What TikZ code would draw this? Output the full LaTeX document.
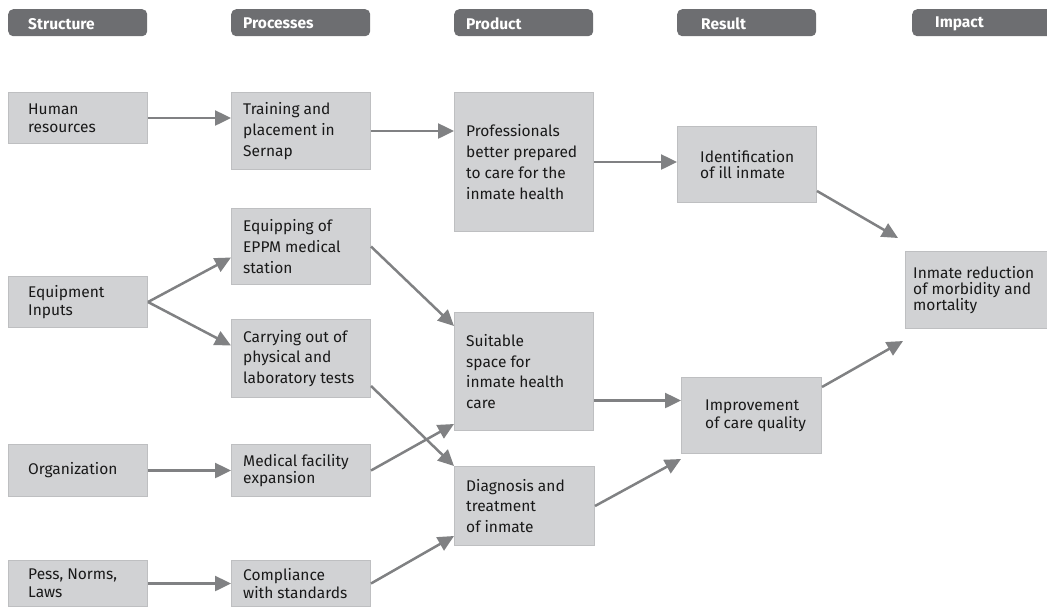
\documentclass[tikz,border=0pt]{standalone}
\usepackage{fontspec}
\setmainfont{Fira Sans}
\usetikzlibrary{arrows.meta}
\definecolor{boxfill}{RGB}{209,210,212}
\definecolor{boxline}{RGB}{190,191,193}
\definecolor{headfill}{RGB}{109,110,113}
\definecolor{arrgray}{RGB}{128,129,131}
\tikzset{
  box/.style={draw=boxline, fill=boxfill, line width=1pt, anchor=north west, inner sep=0pt},
  txt/.style={inner sep=0pt, align=left, anchor=west, text=black!90,
    font=\fontsize{15.5}{20.7}\selectfont},
  tight/.style={font=\fontsize{15.5}{17.8}\selectfont},
  head/.style={fill=headfill, rounded corners=5pt, anchor=north west, inner sep=0pt},
  headtxt/.style={inner sep=0pt, anchor=west, text=white, font=\fontsize{15.5}{17}\selectfont\bfseries},
  arr/.style={draw=arrgray, line width=2.5pt, -{Triangle[length=16pt,width=15pt]}},
}
% #1 text options, #2 name, #3 x, #4 y, #5 w, #6 h, #7 inset, #8 text
\newcommand\flowbox[8][]{%
  \node[box, minimum width=#5pt, minimum height=#6pt] (#2) at (#3,#4) {};
  \node[txt,#1] (#2t) at ([xshift=#7pt]#2.west) {#8};
}
\newcommand\headbox[6]{%
  \node[head, minimum width=#4pt, minimum height=27pt] (#1) at (#2,#3) {};
  \node[headtxt] (#1t) at ([xshift=#5pt,yshift=-1pt]#1.west) {#6};
}
\begin{document}
\begin{tikzpicture}[x=1pt,y=-1pt]
\useasboundingbox (0,0) rectangle (1047,606);
% headers
\headbox{hS}{8}{9}{139}{20}{Structure}
\headbox{hP}{231}{9}{139}{12}{Processes}
\headbox{hPr}{454}{9}{139}{12}{Product}
\headbox{hR}{677}{9}{139}{24}{Result}
\headbox{hI}{912}{9}{140}{23}{Impact}
% structure
\flowbox[tight]{hr}{8}{92}{139}{51}{20}{Human\\resources}
\flowbox[tight]{eqi}{8}{276}{139}{51}{20}{Equipment\\Inputs}
\flowbox{org}{8}{444}{139}{52}{20}{Organization}
\flowbox[tight]{pess}{8}{560}{139}{46}{20}{Pess, Norms,\\Laws}
% processes
\flowbox{train}{231}{92}{139}{77}{12}{Training and\\placement in\\Sernap}
\flowbox{equip}{231}{208}{139}{76}{12}{Equipping of\\EPPM medical\\station}
\flowbox{carry}{231}{319}{139}{78}{12}{Carrying out of\\physical and\\laboratory tests}
\flowbox[tight]{med}{231}{444}{139}{52}{12}{Medical facility\\expansion}
\flowbox[tight]{comp}{231}{560}{139}{46}{12}{Compliance\\with standards}
% product
\flowbox{prof}{454}{92}{139}{139}{12}{Professionals\\better prepared\\to care for the\\inmate health}
\flowbox{suit}{454}{312}{139}{118}{12}{Suitable\\space for\\inmate health\\care}
\flowbox{diag}{454}{466}{140}{79}{12}{Diagnosis and\\treatment\\of inmate}
% result
\flowbox[font=\fontsize{15.5}{16.7}\selectfont]{ident}{677}{126}{139}{76}{23}{Identification\\of ill inmate}
\flowbox[tight]{impr}{681}{377}{140}{76}{24}{Improvement\\of care quality}
% impact
\flowbox[font=\fontsize{15.5}{16}\selectfont]{inm}{905}{251}{145}{77}{8}{Inmate reduction\\of morbidity and\\mortality}
% arrows
\draw[arr] (hr.east) -- (hr.east -| train.west);
\draw[arr] (train.east) -- (train.east -| prof.west);
\draw[arr] (prof.east) -- (prof.east -| ident.west);
\draw[arr] (eqi.east) -- ([yshift=-11pt]equip.west);
\draw[arr] (eqi.east) -- ([yshift=13pt]carry.west);
\draw[arr] (equip.east) -- ([yshift=-14pt]suit.north west);
\draw[arr] ([yshift=12pt]carry.south east) -- (diag.north west);
\draw[arr] (org.east) -- (org.east -| med.west);
\draw[arr] (med.east) -- ([yshift=7pt]suit.south west);
\draw[arr] (pess.east) -- (pess.east -| comp.west);
\draw[arr] (comp.east) -- ([yshift=10pt]diag.south west);
\draw[arr] ([yshift=-29pt]suit.east) -- ([yshift=-29pt]suit.east -| impr.west);
\draw[arr] (diag.east) -- ([yshift=-5pt]impr.south west);
\draw[arr] ([yshift=12pt]ident.south east) -- ([xshift=-7pt,yshift=13pt]inm.north west);
\draw[arr] ([yshift=-10pt]impr.north east) -- ([xshift=-2pt,yshift=-12pt]inm.south west);
\end{tikzpicture}
\end{document}
